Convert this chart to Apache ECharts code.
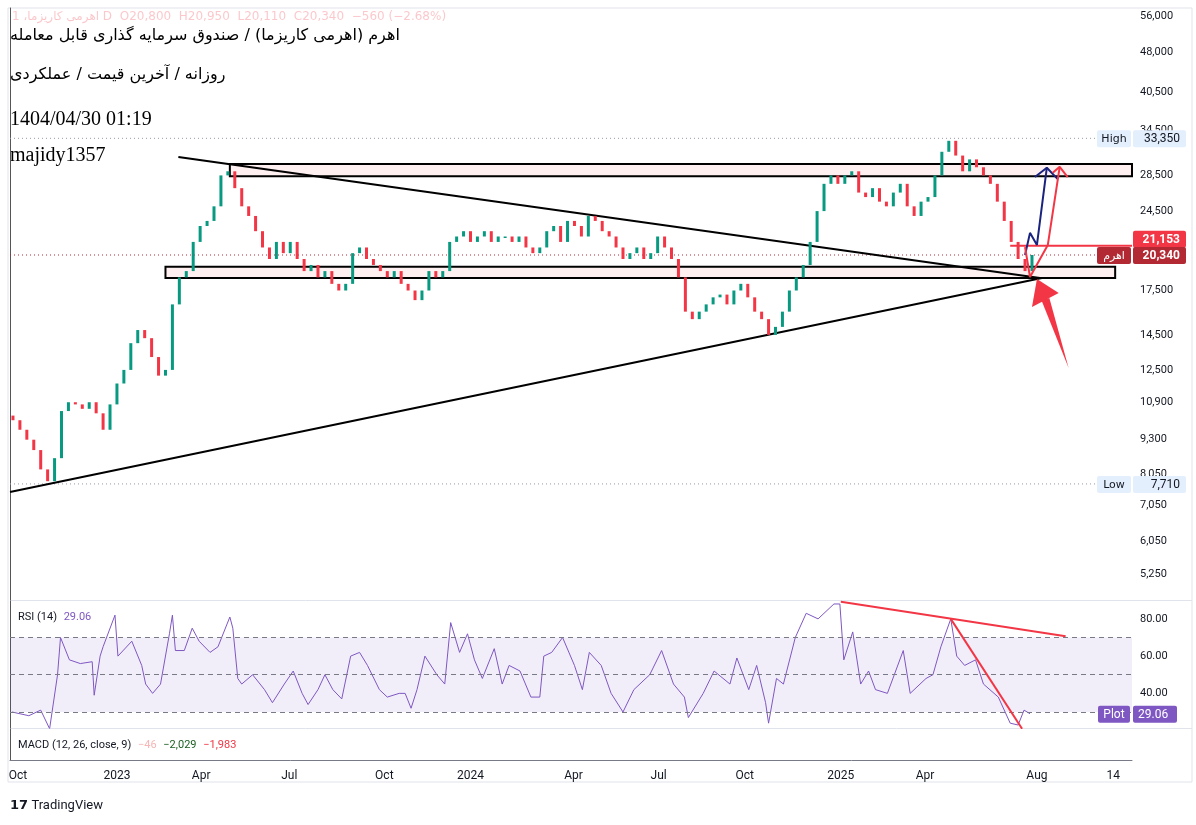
<!DOCTYPE html>
<html><head><meta charset="utf-8">
<script src="https://cdn.jsdelivr.net/npm/echarts@6/dist/echarts.min.js"></script>
<style>html,body{margin:0;padding:0;background:#fff}#main{width:1196px;height:825px}</style>
</head><body><div id="main"></div>
<script>
// x = trading days since 2022-09-22, y = ln(price)
var weekStart = 3, weekStep = 7;
var closes = [
 10100,9700,9300,8900,8200,7800,8600,10500,10900,10800,
 10600,10900,10400,9700,10800,11800,12500,14000,14800,14300,
 13200,12200,12500,16500,18500,19000,21500,23000,23500,25000,
 28500,29000,27000,25000,24000,22500,21000,20000,21500,20500,
 21500,20000,19000,19500,18500,19000,18000,17500,18000,20500,
 21000,20000,19500,19000,18500,19000,18000,17500,16800,17500,
 19000,18500,19000,21500,22000,22500,21500,22000,22500,21500,
 22000,22000,21500,22000,21000,20500,21000,22500,23000,21500,
 23500,23000,22000,24000,23500,22500,22000,21000,20000,20500,
 21000,20000,20500,22000,21000,20000,18500,16000,15500,16000,
 16500,17000,17200,16500,17500,18000,17000,16000,15500,14500,
 15000,16000,17500,18500,19500,21500,24500,27500,28500,27500,
 28500,29000,26500,26000,27000,25500,25000,26500,27500,25000,
 24000,25500,26000,28500,31500,33000,31000,29000,30500,29500,
 28500,27500,25500,23500,21500,20000,19000,20340
];
var firstOpen = 10300;

var rsiDays = [2,19,31,40,48,51,60,71,83,85,91,94,106,109,123,133,137,144,152,161,164,167,176,184,191,202,210,222,225,230,234,245,257,265,277,286,295,301,311,318,326,335,344,353,361,373,381,393,399,405,411,419,431,439,445,454,462,469,477,489,497,504,515,526,535,539,547,558,570,578,585,597,
 607,619,630,646,658,670,681,685,700,711,727,734,746,754,763,766,774,781,793,804,816,832,838,842,851,859,867,874,886,902,909,925,932,940,950,956,964,975,983,998,1010,1018,1024,1030];
var rsiVals = [30,28,31,21,50,70,58,56,57,39,60,65,82,60,68,55,45,40,45,72,82,63,63,75,68,62,65,81,75,48,45,50,42,35,45,52,40,34,42,50,42,37,60,62,55,42,38,40,40,32,42,60,50,45,78,62,72,58,48,64,45,55,52,38,38,60,62,70,55,42,62,55,
 40,30,42,50,63,45,38,27,40,52,45,59,42,55,35,24,48,45,70,83,80,88,88,58,73,45,52,42,40,63,40,48,50,65,80,60,55,58,45,38,24,23,31,29.06];

var priceTicks = [56000,48000,40500,34500,28500,24500,17500,14500,12500,10900,9300,8050,7050,6050,5250];
var rsiTicks = [80,60,40];
var dateTickDays = [8,108,193,282,378,465,569,655,742,839,924,1037,1114];
var dateTickLabels = ['Oct','2023','Apr','Jul','Oct','2024','Apr','Jul','Oct','2025','Apr','Aug','14'];

var descLine = [[170,30800],[1040,18450]];
var ascLine = [[0,7450],[1042,18450]];
var zones = [[222,1133,28400,29900],[157,1116,18450,19350]];
var resLine = [[1010,21153],[1133,21153]];
var bluePath = [[1025,20340],[1030,22340],[1037,21230],[1047,29440]];
var blueHead = [[1035,28300],[1047,29440],[1058,28050]];
var redPath = [[1025,21030],[1030,18530],[1048,21230],[1060,29560]];
var redHead = [[1053,28830],[1060,29560],[1068,28300]];
var bigArrow = [[1037,18370],[1032,16320],[1059,17310],[1069,12600]];
var rsiLine1 = [[839,89.2],[1066,70.7]];
var rsiLine2 = [[950,80],[1022,21]];
var tags = [
 {v:33350, text:'33,350', side:'High', bg:'#e3effd', side_bg:'#e3effd', color:'#131722', bold:false, dy:0},
 {v:21153, text:'21,153', side:'', bg:'#f23645', side_bg:'', color:'#fff', bold:true, dy:-7},
 {v:20340, text:'20,340', side:'اهرم', bg:'#b22833', side_bg:'#b22833', color:'#fff', bold:true, dy:0},
 {v:7710, text:'7,710', side:'Low', bg:'#e3effd', side_bg:'#e3effd', color:'#131722', bold:false, dy:0}
];

var L = Math.log;
var xMax = 1133;
function lg(arr){ return arr.map(function(p){ return [p[0], L(p[1])]; }); }

var candles = closes.map(function(c,i){
  var o = i === 0 ? firstOpen : closes[i-1];
  return [weekStart + i*weekStep, L(o), L(c)];
});
var rsi = rsiDays.map(function(d,i){ return [d, rsiVals[i]]; });

function lineSeries(data, color, width, xi, yi, z, type){
  return {type:'line', data:data, xAxisIndex:xi||0, yAxisIndex:yi||0, symbol:'none', silent:true,
    lineStyle:{color:color, width:width, type:type||'solid'}, z:z||3, animation:false};
}

var sideFont = 'Roboto, "DejaVu Sans", sans-serif';
var option = {
  animation:false,
  grid:[
    {left:10, right:64, top:8, height:592},
    {left:10, right:64, top:601, height:127},
    {left:10, right:64, top:729, height:31}
  ],
  xAxis:[0,1,2].map(function(i){
    return {type:'value', gridIndex:i, min:0, max:xMax, splitLine:{show:false},
      axisTick:{show:false}, axisLine:{show:i===2, lineStyle:{color:'#787b86'}},
      axisLabel: i===2 ? {show:true, customValues:dateTickDays, color:'#131722', fontSize:12, margin:10, fontFamily:sideFont,
        formatter:function(v){ var k=dateTickDays.indexOf(v); return k<0?'':dateTickLabels[k]; }} : {show:false}};
  }),
  yAxis:[
    {type:'value', gridIndex:0, position:'right', min:8.4585, max:10.967, splitLine:{show:false},
      axisLine:{show:true, lineStyle:{color:'#555'}}, axisTick:{show:false},
      axisLabel:{customValues:priceTicks.map(L), color:'#131722', fontSize:11, margin:8, fontFamily:sideFont,
        formatter:function(v){ return Math.round(Math.exp(v)).toLocaleString('en-US'); }}},
    {type:'value', gridIndex:1, position:'right', min:21.4, max:89.6, splitLine:{show:false},
      axisLine:{show:true, lineStyle:{color:'#555'}}, axisTick:{show:false},
      axisLabel:{customValues:rsiTicks, color:'#131722', fontSize:11, margin:8, fontFamily:sideFont,
        formatter:function(v){ return v.toFixed(2); }}},
    {type:'value', gridIndex:2, position:'right', min:0, max:1, splitLine:{show:false},
      axisLine:{show:true, lineStyle:{color:'#555'}}, axisTick:{show:false}, axisLabel:{show:false}}
  ],
  series:[
    {type:'custom', xAxisIndex:0, yAxisIndex:0, z:2, data:zones.map(function(r){return [r[0],r[1],L(r[2]),L(r[3])];}),
      renderItem:function(p, api){
        var a = api.coord([api.value(0), api.value(3)]), b = api.coord([api.value(1), api.value(2)]);
        return {type:'rect', shape:{x:a[0], y:a[1], width:b[0]-a[0], height:b[1]-a[1]},
          style:{fill:'rgba(242,54,69,0.08)', stroke:'#000', lineWidth:2}};
      }},
    {type:'custom', xAxisIndex:0, yAxisIndex:0, z:4, data:candles,
      renderItem:function(p, api){
        var x=api.value(0), o=api.value(1), c=api.value(2);
        var p1=api.coord([x,o]), p2=api.coord([x,c]);
        var top=Math.min(p1[1],p2[1]), h=Math.max(1.5,Math.abs(p1[1]-p2[1]));
        return {type:'rect', shape:{x:p1[0]-1.5, y:top, width:3, height:h}, style:{fill: c>=o ? '#089981' : '#f23645'}};
      }},
    lineSeries(lg([[0,33350],[xMax,33350]]), '#9598a1', 1, 0, 0, 3, [1,3]),
    lineSeries(lg([[0,7710],[xMax,7710]]), '#9598a1', 1, 0, 0, 3, [1,3]),
    lineSeries(lg([[0,20340],[xMax,20340]]), '#b22833', 1, 0, 0, 3, [1,3]),
    lineSeries(lg(descLine), '#000', 2),
    lineSeries(lg(ascLine), '#000', 2),
    lineSeries(lg(resLine), '#f23645', 2),
    lineSeries(lg(bluePath), '#1a237e', 2, 0, 0, 6),
    lineSeries(lg(blueHead), '#1a237e', 2, 0, 0, 6),
    lineSeries(lg(redPath), '#f23645', 2, 0, 0, 6),
    lineSeries(lg(redHead), '#f23645', 2, 0, 0, 6),
    {type:'custom', xAxisIndex:0, yAxisIndex:0, z:7, data:[0],
      renderItem:function(p, api){
        var pts = lg(bigArrow).map(function(q){return api.coord(q);});
        var mid = [(pts[1][0]+pts[2][0])/2, (pts[1][1]+pts[2][1])/2];
        return {type:'group', children:[
          {type:'polygon', shape:{points:[pts[0],pts[1],pts[2]]}, style:{fill:'#f23645'}},
          {type:'polygon', shape:{points:[[mid[0]-4,mid[1]],[mid[0]+4,mid[1]-2],pts[3]]}, style:{fill:'#f23645'}}
        ]};
      }},
    {type:'custom', xAxisIndex:0, yAxisIndex:0, z:20, clip:false, data:tags.map(function(t,i){return [xMax, L(t.v), i];}),
      renderItem:function(p, api){
        var t = tags[api.value(2)], pt = api.coord([api.value(0), api.value(1)]);
        var y = pt[1] + t.dy;
        var kids = [
          {type:'rect', shape:{x:pt[0]+1, y:y-8, width:53, height:17, r:2}, style:{fill:t.bg}},
          {type:'text', style:{x:pt[0]+48, y:y+1, text:t.text, fill:t.color, font:(t.bold?'bold ':'')+'12px Roboto, sans-serif', align:'right', verticalAlign:'middle'}}
        ];
        if (t.side) {
          kids.push({type:'rect', shape:{x:pt[0]-35, y:y-8, width:34, height:17, r:2}, style:{fill:t.side_bg}});
          kids.push({type:'text', style:{x:pt[0]-18, y:y+1, text:t.side, fill:t.color, font:'11px "DejaVu Sans", sans-serif', align:'center', verticalAlign:'middle'}});
        }
        return {type:'group', children:kids};
      }},
    {type:'line', xAxisIndex:1, yAxisIndex:1, data:rsi, symbol:'none', lineStyle:{color:'#7e57c2', width:1}, z:4,
      markArea:{silent:true, itemStyle:{color:'rgba(126,87,194,0.1)'}, data:[[{yAxis:30},{yAxis:70}]]},
      markLine:{silent:true, symbol:'none', label:{show:false}, lineStyle:{color:'#787b86', type:[5,4], width:1},
        data:[{yAxis:70},{yAxis:50},{yAxis:30}]}},
    lineSeries(rsiLine1, '#f23645', 2, 1, 1, 5),
    lineSeries(rsiLine2, '#f23645', 2, 1, 1, 5),
    {type:'custom', xAxisIndex:1, yAxisIndex:1, z:20, clip:false, data:[[xMax, 29.06]],
      renderItem:function(p, api){
        var pt = api.coord([api.value(0), api.value(1)]);
        return {type:'group', children:[
          {type:'rect', shape:{x:pt[0]+1, y:pt[1]-8, width:44, height:17, r:2}, style:{fill:'#7e57c2'}},
          {type:'text', style:{x:pt[0]+6, y:pt[1]+1, text:'29.06', fill:'#fff', font:'12px Roboto, sans-serif', verticalAlign:'middle'}},
          {type:'rect', shape:{x:pt[0]-34, y:pt[1]-8, width:32, height:17, r:2}, style:{fill:'#7e57c2'}},
          {type:'text', style:{x:pt[0]-18, y:pt[1]+1, text:'Plot', fill:'#fff', font:'12px Roboto, sans-serif', align:'center', verticalAlign:'middle'}}
        ]};
      }}
  ],
  graphic:[
    {type:'rect', shape:{x:8, y:8, width:1184, height:774}, style:{fill:'none', stroke:'#e0e3eb', lineWidth:1}, silent:true},
    {type:'line', shape:{x1:10, y1:600.5, x2:1192, y2:600.5}, style:{stroke:'#e0e3eb'}},
    {type:'line', shape:{x1:10, y1:728.5, x2:1192, y2:728.5}, style:{stroke:'#e0e3eb'}},
    {type:'text', left:12, top:11, style:{text:'اهرمی کاریزما، 1 D  O20,800  H20,950  L20,110  C20,340  −560 (−2.68%)', fill:'rgba(242,54,69,0.28)', font:'12px "DejaVu Sans", sans-serif'}},
    {type:'text', left:10, top:28, style:{text:'اهرم (اهرمی کاریزما) / صندوق سرمایه گذاری قابل معامله', fill:'#000', font:'16px "DejaVu Sans", sans-serif'}},
    {type:'text', left:10, top:67, style:{text:'روزانه / آخرین قیمت / عملکردی', fill:'#000', font:'16px "DejaVu Sans", sans-serif'}},
    {type:'text', left:10, top:110, style:{text:'1404/04/30 01:19', fill:'#000', font:'20px "Liberation Serif", serif'}},
    {type:'text', left:10, top:146, style:{text:'majidy1357', fill:'#000', font:'20px "Liberation Serif", serif'}},
    {type:'text', left:18, top:611, style:{rich:{a:{fill:'#131722', font:'11px Roboto, sans-serif'}, b:{fill:'#7e57c2', font:'11px Roboto, sans-serif'}}, text:'{a|RSI (14)}  {b|29.06}'}},
    {type:'text', left:18, top:739, style:{rich:{a:{fill:'#131722', font:'11px Roboto, sans-serif'}, b:{fill:'#f7b5b5', font:'11px Roboto, sans-serif'}, c:{fill:'#1b5e20', font:'11px Roboto, sans-serif'}, d:{fill:'#f23645', font:'11px Roboto, sans-serif'}}, text:'{a|MACD (12, 26, close, 9)}  {b|−46}  {c|−2,029}  {d|−1,983}'}},
    {type:'text', left:10, top:799, style:{rich:{a:{fill:'#131722', font:'bold 13px "DejaVu Sans", sans-serif'}, b:{fill:'#131722', font:'13px Roboto, sans-serif'}}, text:'{a|17} {b|TradingView}'}}
  ]
};
echarts.init(document.getElementById('main')).setOption(option);
</script></body></html>
